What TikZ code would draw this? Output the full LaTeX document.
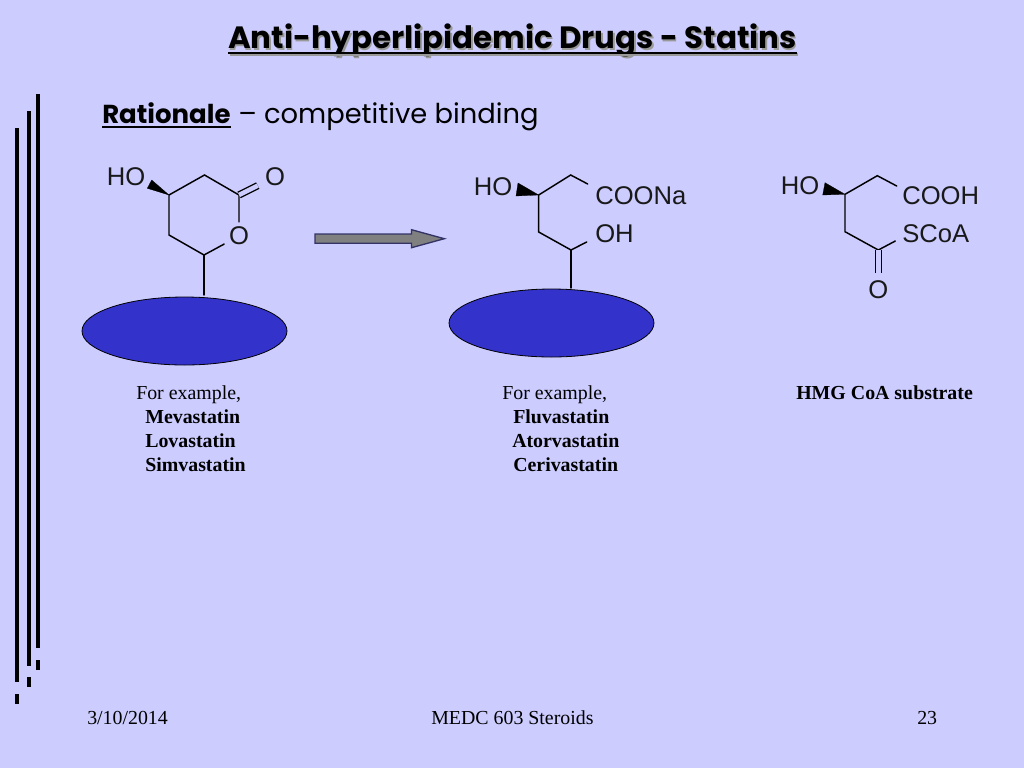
\documentclass[tikz,border=0pt]{standalone}
\usepackage{fontspec}
\setmainfont{Liberation Serif}
\newfontfamily\headfont{Poppins}
\newfontfamily\chemfont{Liberation Sans}
\usetikzlibrary{positioning, shapes.geometric}
\definecolor{paper}{HTML}{CCCCFF}
\definecolor{pocket}{HTML}{3333CC}
\definecolor{arrowfill}{HTML}{808080}
\definecolor{arrowline}{HTML}{333366}
\begin{document}
\begin{tikzpicture}[
    x=0.75pt, y=-0.75pt,
    atom/.style={font=\chemfont\fontsize{19.2}{20}\selectfont, inner sep=3.5pt, text=black!90},
    label/.style={anchor=base west, font=\chemfont\fontsize{19.2}{20}\selectfont, inner sep=0pt, text=black!90},
    bond/.style={line width=1.1pt, line cap=round},
    dbond/.style={line width=1pt, double=paper, double distance=3.4pt, shorten >=2pt},
    wedge/.style={fill=black, draw=black, line width=0.2pt},
    pocket/.style={ellipse, draw=black, line width=0.6pt, fill=pocket, minimum width=153.75pt, minimum height=51pt, inner sep=0pt},
    note/.style={anchor=base west, font=\fontsize{14.9}{16}\selectfont, inner sep=0pt},
    drug/.style={note, font=\bfseries\fontsize{14.9}{16}\selectfont},
    foot/.style={anchor=base west, font=\fontsize{14.9}{16}\selectfont, inner sep=0pt},
    bar/.style={line width=3pt}
]
\fill[paper] (0,0) rectangle (1024,768);
\useasboundingbox (0,0) rectangle (1024,768);

% heading
\node [anchor=base west, inner sep=0pt, text=black!40, font=\headfont\bfseries\fontsize{23.1}{24}\selectfont] (titleshadow) at (229.5,50) {Anti-hyperlipidemic Drugs - Statins};
\node [anchor=base west, inner sep=0pt, font=\headfont\bfseries\fontsize{23.1}{24}\selectfont] (title) at (228,48.5) {Anti-hyperlipidemic Drugs - Statins};
\draw[line width=2pt, black!40] ([shift={(1.5,6)}]title.base west) -- ([shift={(1.5,6)}]title.base east);
\draw[line width=2pt] ([yshift=-3.4pt]title.base west) -- ([yshift=-3.4pt]title.base east);
\node [anchor=base west, inner sep=0pt, font=\headfont\bfseries\fontsize{19.5}{20}\selectfont] (rationale) at (102,123) {Rationale};
\draw[line width=1.4pt] ([yshift=-3pt]rationale.base west) -- ([yshift=-3pt]rationale.base east);
\node [anchor=base west, inner sep=0pt, font=\headfont\fontsize{20.5}{22}\selectfont] (binding) at (238,123) {– competitive binding};

% side bars
\foreach \x/\top/\bot/\da/\db in {17/128/682/694/704, 28.5/111/666/677/687, 38/94/648/660/670} {
    \draw[bar] (\x,\top) -- (\x,\bot);
    \draw[bar] (\x,\da) -- (\x,\db);
}

% lactone
\coordinate (a1) at (169,195);
\coordinate (a2) at (204.5,175);
\coordinate (a3) at (239,195);
\coordinate (a4) at (204,255);
\coordinate (a5) at (169,235);
\coordinate (a6) at (204,295);
\coordinate (a7) at (151.7,180);
\coordinate (a8) at (147.3,188.3);
\node [atom] (ho1) at (126,177) {HO};
\node [atom] (o1) at (275,177) {O};
\node [atom] (o2) at (239,236) {O};
\fill[wedge] (a1) -- (a7) -- (a8) -- cycle;
\draw[bond] (a1) -- (a2) -- (a3) -- (o2) -- (a4) -- (a5) -- (a1);
\draw[dbond] (a3) -- (o1);
\draw[bond] (a4) -- (a6);
\node [pocket] (p1) at (184.5,331) {};

% arrow
\draw[line width=1pt, draw=arrowline, fill=arrowfill] (315,234) -- (411.5,234) -- (411.5,229.7) -- (444.3,238.7) -- (411.5,247.7) -- (411.5,243.3) -- (315,243.3) -- cycle;

% open acid
\coordinate (b1) at (538.7,195);
\coordinate (b2) at (570.7,175);
\coordinate (b3) at (587.7,184);
\coordinate (b4) at (538.7,232);
\coordinate (b5) at (571,250);
\coordinate (b6) at (586.7,242);
\coordinate (b7) at (571,288);
\coordinate (b8) at (518,183);
\coordinate (b9) at (516,196);
\node [atom] (ho2) at (493,187) {HO};
\node [label] (coona) at (595,204) {COONa};
\node [label] (oh) at (595,242) {OH};
\fill[wedge] (b1) -- (b8) -- (b9) -- cycle;
\draw[bond] (b3) -- (b2) -- (b1) -- (b4) -- (b5) -- (b6);
\draw[bond] (b5) -- (b7);
\node [pocket] (p2) at (551.5,323) {};

% substrate
\coordinate (c1) at (845,194.3);
\coordinate (c2) at (877.3,175.7);
\coordinate (c3) at (896.7,186);
\coordinate (c4) at (845,231.7);
\coordinate (c5) at (878.3,250);
\coordinate (c6) at (895.3,241);
\coordinate (c7) at (825,182.7);
\coordinate (c8) at (822.7,195);
\node [atom] (ho3) at (800,186) {HO};
\node [label] (cooh) at (902,204) {COOH};
\node [label] (scoa) at (902,242) {SCoA};
\node [atom] (o3) at (878.3,290) {O};
\fill[wedge] (c1) -- (c7) -- (c8) -- cycle;
\draw[bond] (c3) -- (c2) -- (c1) -- (c4) -- (c5) -- (c6);
\draw[dbond] (c5) -- (o3);

% drug lists
\node [note] (ex1) at (136,399) {For example,};
\node [drug] (mev) at (145,423) {Mevastatin};
\node [drug] (lov) at (145,447) {Lovastatin};
\node [drug] (sim) at (145,471) {Simvastatin};
\node [note] (ex2) at (502,399) {For example,};
\node [drug] (flu) at (513,423) {Fluvastatin};
\node [drug] (ato) at (512,447) {Atorvastatin};
\node [drug] (cer) at (513,471) {Cerivastatin};
\node [drug] (hmg) at (796,399) {HMG CoA substrate};

% footer
\node [foot] (date) at (87,724) {3/10/2014};
\node [foot] (course) at (431,724) {MEDC 603 Steroids};
\node [foot] (page) at (917,724) {23};
\end{tikzpicture}
\end{document}
